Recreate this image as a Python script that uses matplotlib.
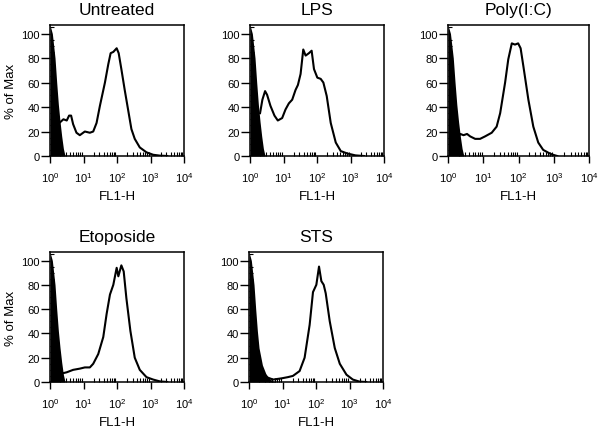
import numpy as np
import matplotlib.pyplot as plt
from matplotlib.ticker import LogLocator, MultipleLocator, NullFormatter

plt.rcParams["font.family"] = ["Liberation Sans", "DejaVu Sans"]
plt.rcParams["mathtext.fontset"] = "custom"
plt.rcParams["mathtext.rm"] = "Liberation Sans"

titles = ["Untreated", "LPS", "Poly(I:C)", "Etoposide", "STS"]

# control (filled) histogram, log10 of FL1-H and % of max
ctrl_log = [0, 0.07, 0.15, 0.2, 0.25, 0.3, 0.35, 0.4, 0.45]
ctrl_pct = [107, 100, 80, 60, 42, 28, 16, 6, 0]
sts_ctrl_log = [0, 0.07, 0.15, 0.2, 0.25, 0.3, 0.4, 0.5, 0.6, 0.7, 0.8]
sts_ctrl_pct = [107, 100, 80, 60, 42, 28, 14, 7, 3, 1, 0]

untreated_log = [0.28, 0.40, 0.50, 0.57, 0.63, 0.69, 0.79, 0.89, 1.04, 1.19, 1.29, 1.39,
                 1.49, 1.64, 1.74, 1.81, 1.89, 1.99, 2.05, 2.13, 2.23, 2.33, 2.43, 2.53,
                 2.68, 2.88, 3.08, 3.28, 3.5]
untreated_pct = [27, 30, 29, 33, 33, 26, 19, 17, 20, 19, 20, 27,
                 41, 60, 75, 84, 85, 88, 84, 71, 54, 38, 22, 14,
                 7, 3, 1, 0.3, 0]

lps_log = [0.30, 0.37, 0.45, 0.51, 0.61, 0.73, 0.83, 0.96, 1.06, 1.16, 1.26, 1.36,
           1.43, 1.51, 1.59, 1.66, 1.76, 1.84, 1.91, 2.01, 2.11, 2.19, 2.29, 2.41,
           2.56, 2.71, 2.91, 3.15, 3.4]
lps_pct = [35, 46, 53, 50, 41, 33, 29, 31, 38, 43, 46, 54,
           58, 67, 87, 82, 84, 86, 71, 64, 63, 60, 49, 27,
           11, 4, 2, 0.5, 0]

poly_log = [0.25, 0.35, 0.44, 0.54, 0.63, 0.77, 0.91, 1.05, 1.24, 1.38, 1.48, 1.62,
            1.71, 1.81, 1.90, 1.99, 2.06, 2.14, 2.28, 2.42, 2.56, 2.70, 2.89, 2.98, 3.1]
poly_pct = [14, 18, 17, 18, 16, 14, 14, 16, 19, 24, 35, 60,
            79, 92, 91, 92, 88, 73, 46, 24, 11, 5, 2, 1, 0]

etop_log = [0.35, 0.50, 0.69, 0.89, 1.04, 1.19, 1.29, 1.44, 1.59, 1.69, 1.79, 1.89,
            1.99, 2.04, 2.13, 2.20, 2.28, 2.40, 2.53, 2.68, 2.88, 3.08, 3.28, 3.5]
etop_pct = [7, 8, 10, 11, 12, 12, 15, 23, 37, 56, 72, 80,
            94, 87, 96, 91, 69, 42, 20, 10, 4, 2, 0.5, 0]

sts_log = [0.52, 0.72, 0.97, 1.16, 1.31, 1.51, 1.66, 1.81, 1.91, 2.01, 2.09, 2.16,
           2.23, 2.29, 2.41, 2.56, 2.71, 2.91, 3.10, 3.30, 3.5]
sts_pct = [4, 2, 3, 4, 5, 9, 20, 47, 74, 80, 95, 83,
           80, 73, 50, 28, 15, 6, 2, 0.3, 0]

series = [
    (untreated_log, untreated_pct, ctrl_log, ctrl_pct),
    (lps_log, lps_pct, ctrl_log, ctrl_pct),
    (poly_log, poly_pct, ctrl_log, ctrl_pct),
    (etop_log, etop_pct, ctrl_log, ctrl_pct),
    (sts_log, sts_pct, sts_ctrl_log, sts_ctrl_pct),
]

# axes boxes in pixels: left, right, top, bottom
W, H = 601, 431
boxes = [
    (50, 184, 26, 157),
    (250, 384, 26, 157),
    (448, 589, 26, 157),
    (50, 184, 253, 383),
    (249, 383, 253, 383),
]

fig = plt.figure(figsize=(W / 100, H / 100), dpi=100)

for title, (xl, yl, cxl, cyl), (l, r, t, b) in zip(titles, series, boxes):
    ax = fig.add_axes([l / W, 1 - b / H, (r - l) / W, (b - t) / H])
    ax.fill_between(10 ** np.array(cxl), cyl, 0, color="black", lw=0)
    ax.plot(10 ** np.array(xl), yl, color="black", lw=1.5)
    ax.set_xscale("log")
    ax.set_xlim(1, 1e4)
    ax.set_ylim(0, 107)
    ax.set_yticks([0, 20, 40, 60, 80, 100])
    ax.yaxis.set_minor_locator(MultipleLocator(5))
    ax.xaxis.set_major_locator(LogLocator(base=10, numticks=10))
    ax.xaxis.set_minor_locator(LogLocator(base=10, subs=np.arange(2, 10), numticks=10))
    ax.xaxis.set_minor_formatter(NullFormatter())
    ax.tick_params(which="major", direction="out", length=5, width=1, labelsize=8)
    ax.tick_params(axis="y", which="major", length=6.5, pad=1)
    ax.tick_params(axis="x", which="major", pad=5.5)
    ax.tick_params(which="minor", direction="in", length=3, width=0.8)
    for s in ax.spines.values():
        s.set_linewidth(1.1)
    ax.set_title(title, fontsize=12.5, pad=8)
    ax.set_xlabel("FL1-H", fontsize=9.5, labelpad=4)
    if l < 100:
        ax.set_ylabel("% of Max", fontsize=9.5, labelpad=3)

fig.savefig("out.png", dpi=100)
